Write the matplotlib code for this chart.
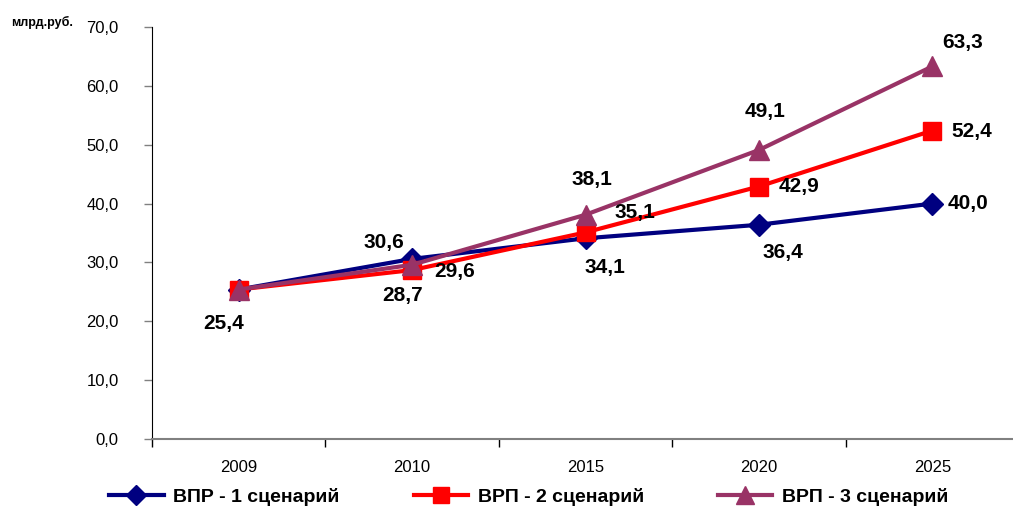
import matplotlib
matplotlib.use("Agg")
import matplotlib.pyplot as plt

plt.rcParams['font.family'] = ['Liberation Sans', 'DejaVu Sans']

categories = ["2009", "2010", "2015", "2020", "2025"]
s1 = [25.4, 30.6, 34.1, 36.4, 40.0]
s2 = [25.4, 28.7, 35.1, 42.9, 52.4]
s3 = [25.4, 29.6, 38.1, 49.1, 63.3]
names_series = ["ВПР - 1 сценарий", "ВРП - 2 сценарий", "ВРП - 3 сценарий"]
yticks = [0, 10, 20, 30, 40, 50, 60, 70]

# label offsets in pixels (dx, dy up)
off1 = [(-15, -34), (-28, 16), (19, -29), (24, -28), (36, 0)]
off2 = [None, (-10, -25), (49, 20), (40, 0), (39, -1)]
off3 = [None, (43, -7), (6, 35), (6, 39), (30, 24)]

W, H = 1013, 512
fig = plt.figure(figsize=(W/100, H/100), dpi=100)
left = 152/W
bottom = 1 - 439/H
top = 1 - 27/H
width = (1019 - 152)/W
ax = fig.add_axes([left, bottom, width, top - bottom])

x = list(range(len(categories)))
l1, = ax.plot(x, s1, color="#000080", lw=3, marker="D", ms=11, label=names_series[0], zorder=3)
l2, = ax.plot(x, s2, color="#FF0000", lw=3, marker="s", ms=12.5, label=names_series[1], zorder=4)
l3, = ax.plot(x, s3, color="#993366", lw=3, marker="^", ms=14, label=names_series[2], zorder=5)

def fmt(v):
    return f"{v:.1f}".replace(".", ",")

for series, offs in ((s1, off1), (s2, off2), (s3, off3)):
    for i, v in enumerate(series):
        o = offs[i]
        if o is None:
            continue
        ax.annotate(fmt(v), (x[i], v), xytext=(o[0]*0.72, o[1]*0.72), textcoords="offset points",
                    ha="center", va="center", fontsize=15, fontweight="bold", zorder=6)

ax.set_xlim(-0.5, 4.5)
ax.set_ylim(0, 70)
ax.set_yticks(yticks)
ax.set_yticklabels([f"{v:.1f}".replace(".", ",") for v in yticks], fontsize=12)
ax.set_xticks([i - 0.5 for i in range(len(categories))])
ax.set_xticklabels([])
ax.set_xticks(x, minor=True)
ax.set_xticklabels(categories, minor=True, fontsize=12)
ax.tick_params(axis="x", which="minor", length=0, pad=15)
ax.tick_params(axis="x", which="major", direction="out", length=6, width=1, color="black")
ax.tick_params(axis="y", direction="out", length=6, width=1, color="#808080", pad=18)

for s in ("top", "right"):
    ax.spines[s].set_visible(False)
ax.spines["left"].set_color("black")
ax.spines["bottom"].set_color("#808080")
ax.spines["bottom"].set_linewidth(1.5)

fig.text(42/W, 1 - 22/H, "млрд.руб.", fontsize=9, fontweight="bold", ha="center", va="center")

leg = fig.legend(handles=[l1, l2, l3], loc="center", bbox_to_anchor=(0.522, 1 - 497/H),
                 ncol=3, frameon=False, prop={"size": 14, "weight": "bold"},
                 handlelength=2.8, columnspacing=3.8, handletextpad=0.5, markerscale=0.9)

fig.savefig("out.png", dpi=100)
